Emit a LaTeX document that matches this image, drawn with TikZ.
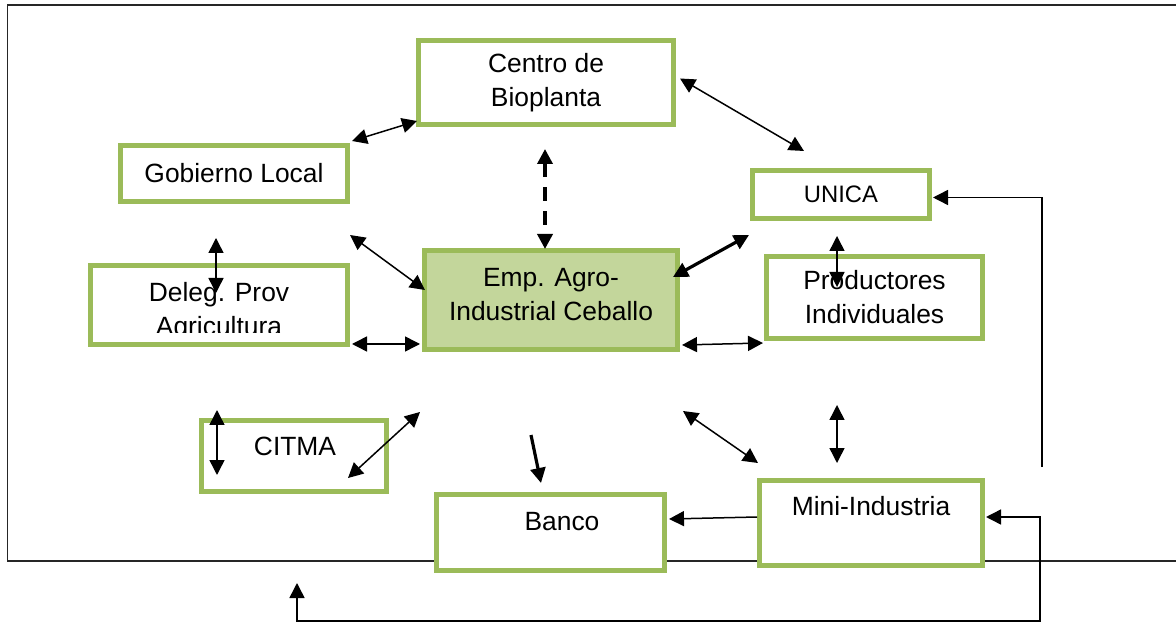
\documentclass[tikz,border=0pt]{standalone}
\usepackage{fontspec}
\setmainfont{Liberation Sans}
\usepackage{tikz}
\usetikzlibrary{arrows.meta, calc}
\usepackage{xcolor}
\definecolor{boxgreen}{HTML}{9BBB59}
\definecolor{empfill}{HTML}{C3D69B}
\tikzset{
  gbox/.style={
    rectangle, draw=boxgreen, line width=2.5pt, fill=white,
    align=center, inner sep=0pt,
    font=\fontsize{13.2}{17}\selectfont
  },
  empbox/.style={gbox, fill=empfill},
  txt/.style={
    align=center, inner sep=0pt,
    font=\fontsize{13.2}{17}\selectfont
  },
  arr/.style={-{Triangle[length=7.5pt,width=7.5pt]}, line width=0.75pt, draw=black},
  dblarr/.style={{Triangle[length=7.5pt,width=7.5pt]}-{Triangle[length=7.5pt,width=7.5pt]},
    line width=0.75pt, draw=black},
  thickdbl/.style={dblarr, line width=1.6pt},
  thickarr/.style={arr, line width=1.6pt},
  frame/.style={line width=0.65pt, draw=black!85}
}

\begin{document}
\begin{tikzpicture}[x=0.5pt, y=-0.5pt]
\useasboundingbox (0,0) rectangle (1176,624);

% ── Outer frame ─────────────────────────────────────────────
\draw[frame] (1176,5) -| (7.5,561) -- (1176,561);

% ── Boxes ───────────────────────────────────────────────────
\node[gbox, minimum width=127.5pt, minimum height=42pt] (centro) at (546,82.5)
  {Centro de\\Bioplanta};
\node[gbox, minimum width=113.5pt, minimum height=28pt] (gob) at (234,173.5)
  {Gobierno Local};
\node[gbox, minimum width=88.5pt, minimum height=24pt,
      font=\fontsize{11.9}{14}\selectfont] (unica) at (841,194.5) {UNICA};
\node[gbox, minimum width=128.5pt, minimum height=39.5pt] (deleg) at (219,305) {};
\node[empbox, minimum width=126.5pt, minimum height=49.5pt] (emp) at (551,300) {};
\node[gbox, minimum width=108pt, minimum height=41pt] (prod) at (874.5,297.5)
  {Productores\\Individuales};
\node[gbox, minimum width=92.5pt, minimum height=35.5pt] (citma) at (294,456) {};
\node[gbox, minimum width=114pt, minimum height=38pt] (banco) at (550.5,532.5) {};
\node[gbox, minimum width=111.5pt, minimum height=42.5pt] (mini) at (871,523) {};

% ── Box texts ───────────────────────────────────────────────
\begin{scope}
  \clip (90,265) rectangle (348,333);
  \node[txt] (delegT) at (219,312) {Deleg. Prov\\Agricultura};
\end{scope}
\node[txt] (empT)   at (551,294.5) {Emp. Agro-\\Industrial Ceballo};
\node[txt] (citmaT) at (295,446.5) {CITMA};
\node[txt] (bancoT) at (562,521.5) {Banco};
\node[txt] (miniT)  at (871,506)   {Mini-Industria};

% ── Connectors ──────────────────────────────────────────────
\draw[dblarr] ($(gob.north east)+(2,-2)$) -- ($(centro.south west)+(1,-6)$);
\draw[dblarr] ($(centro.east)+(4,-4)$) -- ($(unica.north)+(-37,-17)$);
\draw[thickdbl, line width=1.75pt, dash pattern=on 7pt off 5pt]
  ($(centro.south)+(-1,22)$) -- ($(emp.north)+(-6,1)$);
\draw[dblarr] ($(gob.south)+(-18,34)$) -- ($(deleg.north)+(-3,30)$);
\draw[dblarr] ($(gob.south east)+(0,31)$) -- ($(emp.west)+(3,-10)$);
\draw[dblarr] ($(deleg.south east)+(2,-3)$) -- ($(emp.west)+(-2,44)$);
\draw[thickdbl] ($(emp.east)+(-7,-23)$) -- ($(unica.south west)+(-1,14)$);
\draw[dblarr] ($(unica.south)+(-4,15)$) -- ($(prod.north)+(-37.5,33)$);
\draw[dblarr] ($(emp.east)+(2,45)$) -- ($(prod.south west)+(-1,2)$);
\draw[dblarr] ($(citma.north west)+(18,-8)$) -- ($(citma.south west)+(18,-19)$);
\draw[dblarr] ($(citma.east)+(-41,22)$) -- ($(emp.south west)+(-2,60)$);
\draw[thickarr] ($(emp.south)+(-20,83)$) -- ($(banco.north)+(-9.5,-9)$);
\draw[dblarr] ($(emp.south east)+(3,59)$) -- ($(mini.north west)+(1,-15)$);
\draw[dblarr] ($(prod.south)+(-37.5,64)$) -- ($(mini.north)+(-34,-15)$);
\draw[arr] ($(mini.west)+(0,-6)$) -- ($(banco.east)+(2,-13.5)$);

% ── Return lines ────────────────────────────────────────────
\coordinate (rt) at (1042,467);
\draw[arr] (rt) |- ($(unica.east)+(1,3)$);
\coordinate (bl) at (297,583);
\coordinate (br) at (1040,621);
\draw[dblarr] (bl) |- (br) |- ($(mini.east)+(1,-6)$);

\end{tikzpicture}
\end{document}
